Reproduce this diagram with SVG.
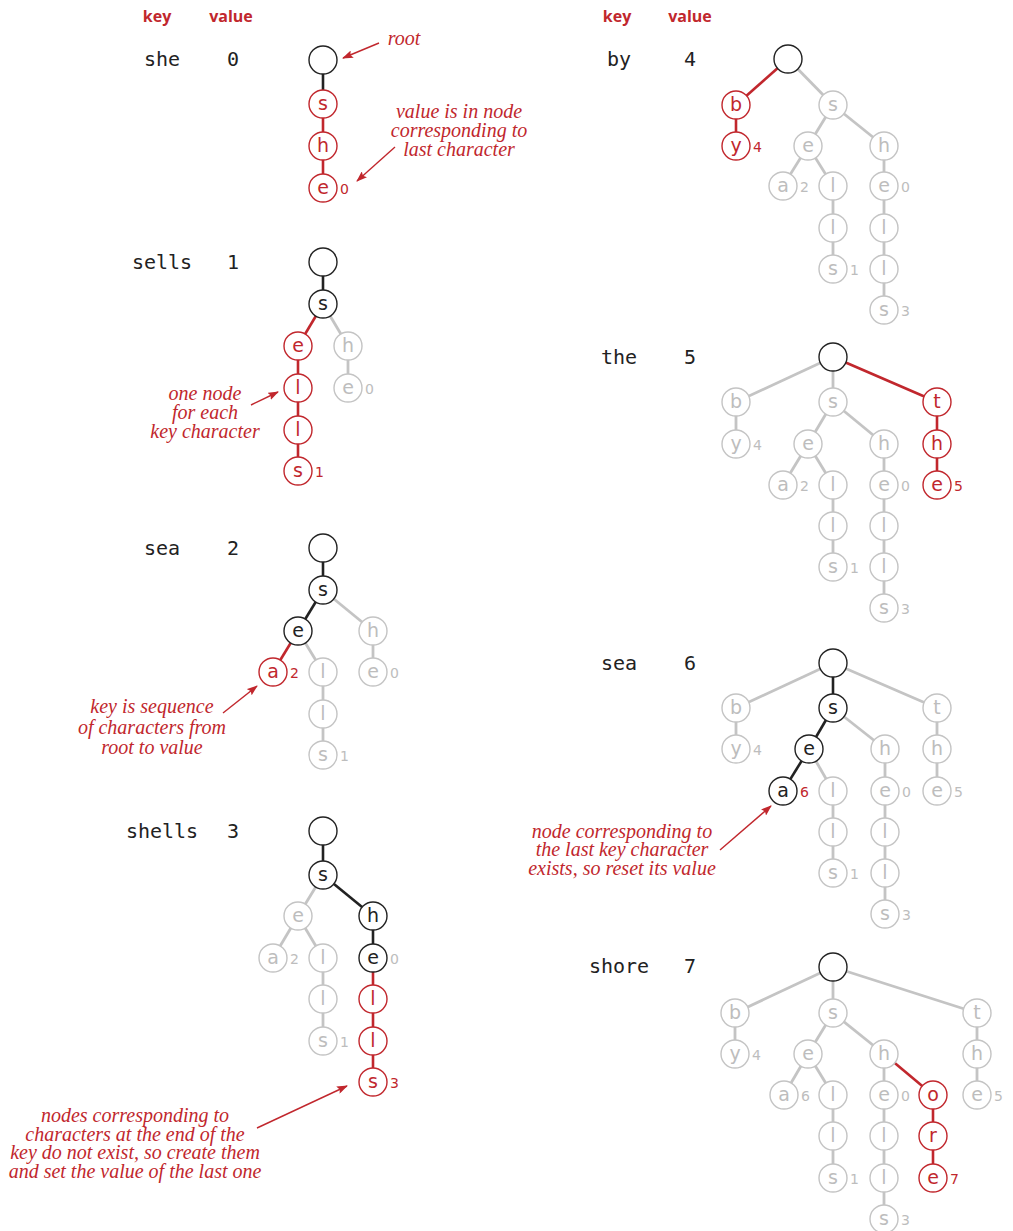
<svg xmlns="http://www.w3.org/2000/svg" width="1013" height="1231" viewBox="0 0 1013 1231">
<defs>
<style>
.hd{font-family:"Open Sans","DejaVu Sans",sans-serif;font-weight:bold;font-size:16px;fill:#c1272d;text-anchor:middle}
.key{font-family:"DejaVu Sans Mono","Liberation Mono",monospace;font-size:20px;fill:#222;text-anchor:middle}
.ann{font-family:"Liberation Serif",serif;font-style:italic;font-size:20px;fill:#c1272d;text-anchor:middle}
circle{fill:#fff;stroke-width:1.4}
.k circle{stroke:#222}
.r circle{stroke:#c1272d}
.g circle{stroke:#c4c4c4}
text.c{font-family:"DejaVu Sans",sans-serif;font-size:19px;text-anchor:middle}
text.v{font-family:"DejaVu Sans",sans-serif;font-size:14px;text-anchor:start}
.k text.c{fill:#222}
.r text.c{fill:#c1272d}
.g text.c{fill:#bdbdbd}
.vr{fill:#c1272d}
.vg{fill:#bdbdbd}
.ek{stroke:#222;stroke-width:2.6}
.er{stroke:#c1272d;stroke-width:2.6}
.eg{stroke:#c4c4c4;stroke-width:2.8}
.arr{stroke:#c1272d;stroke-width:1.4;fill:none}
</style>
<marker id="ah" markerUnits="userSpaceOnUse" markerWidth="11" markerHeight="8" refX="10" refY="4" orient="auto">
<path d="M0,0 L11,4 L0,8 L2,4 z" fill="#c1272d"/>
</marker>
</defs>

<g id="headers">
<text class="hd" x="157" y="22">key</text>
<text class="hd" x="231" y="22">value</text>
<text class="hd" x="617" y="22">key</text>
<text class="hd" x="690" y="22">value</text>
</g>

<g id="keys">
<text class="key" x="162" y="66">she</text><text class="key" x="233" y="66">0</text>
<text class="key" x="162" y="269">sells</text><text class="key" x="233" y="269">1</text>
<text class="key" x="162" y="555">sea</text><text class="key" x="233" y="555">2</text>
<text class="key" x="162" y="838">shells</text><text class="key" x="233" y="838">3</text>
<text class="key" x="619" y="66">by</text><text class="key" x="690" y="66">4</text>
<text class="key" x="619" y="364">the</text><text class="key" x="690" y="364">5</text>
<text class="key" x="619" y="670">sea</text><text class="key" x="690" y="670">6</text>
<text class="key" x="619" y="973">shore</text><text class="key" x="690" y="973">7</text>
</g>

<g id="connectors">
<!-- trie 1 -->
<line class="ek" x1="323" y1="60" x2="323" y2="104"/>
<line class="er" x1="323" y1="104" x2="323" y2="146"/>
<line class="er" x1="323" y1="146" x2="323" y2="188"/>
<!-- trie 2 -->
<line class="ek" x1="323" y1="262" x2="323" y2="304"/>
<line class="er" x1="323" y1="304" x2="298" y2="346"/>
<line class="eg" x1="323" y1="304" x2="348" y2="346"/>
<line class="eg" x1="348" y1="346" x2="348" y2="388"/>
<line class="er" x1="298" y1="346" x2="298" y2="471"/>
<!-- trie 3 -->
<line class="ek" x1="323" y1="548" x2="323" y2="590"/>
<line class="ek" x1="323" y1="590" x2="298" y2="631"/>
<line class="eg" x1="323" y1="590" x2="373" y2="631"/>
<line class="er" x1="298" y1="631" x2="273" y2="672"/>
<line class="eg" x1="298" y1="631" x2="323" y2="672"/>
<line class="eg" x1="373" y1="631" x2="373" y2="672"/>
<line class="eg" x1="323" y1="672" x2="323" y2="755"/>
<!-- trie 4 -->
<line class="ek" x1="323" y1="831" x2="323" y2="875"/>
<line class="eg" x1="323" y1="875" x2="298" y2="916"/>
<line class="ek" x1="323" y1="875" x2="373" y2="916"/>
<line class="eg" x1="298" y1="916" x2="273" y2="958"/>
<line class="eg" x1="298" y1="916" x2="323" y2="958"/>
<line class="eg" x1="323" y1="958" x2="323" y2="1041"/>
<line class="ek" x1="373" y1="916" x2="373" y2="958"/>
<line class="er" x1="373" y1="958" x2="373" y2="1082"/>
<!-- trie 5 -->
<line class="er" x1="788" y1="59" x2="736" y2="105"/>
<line class="eg" x1="788" y1="59" x2="833" y2="105"/>
<line class="er" x1="736" y1="105" x2="736" y2="146"/>
<line class="eg" x1="833" y1="105" x2="808" y2="146"/>
<line class="eg" x1="833" y1="105" x2="884" y2="146"/>
<line class="eg" x1="808" y1="146" x2="783" y2="186"/>
<line class="eg" x1="808" y1="146" x2="833" y2="186"/>
<line class="eg" x1="833" y1="186" x2="833" y2="269"/>
<line class="eg" x1="884" y1="146" x2="884" y2="310"/>
<!-- trie 6 -->
<line class="eg" x1="833" y1="357" x2="736" y2="402"/>
<line class="eg" x1="833" y1="357" x2="833" y2="402"/>
<line class="er" x1="833" y1="357" x2="937" y2="402"/>
<line class="eg" x1="736" y1="402" x2="736" y2="444"/>
<line class="eg" x1="833" y1="402" x2="808" y2="444"/>
<line class="eg" x1="833" y1="402" x2="884" y2="444"/>
<line class="er" x1="937" y1="402" x2="937" y2="485"/>
<line class="eg" x1="808" y1="444" x2="783" y2="485"/>
<line class="eg" x1="808" y1="444" x2="833" y2="485"/>
<line class="eg" x1="833" y1="485" x2="833" y2="567"/>
<line class="eg" x1="884" y1="444" x2="884" y2="608"/>
<!-- trie 7 -->
<line class="eg" x1="833" y1="663" x2="736" y2="708"/>
<line class="ek" x1="833" y1="663" x2="833" y2="708"/>
<line class="eg" x1="833" y1="663" x2="937" y2="708"/>
<line class="eg" x1="736" y1="708" x2="736" y2="749"/>
<line class="ek" x1="833" y1="708" x2="809" y2="749"/>
<line class="eg" x1="833" y1="708" x2="885" y2="749"/>
<line class="eg" x1="937" y1="708" x2="937" y2="791"/>
<line class="ek" x1="809" y1="749" x2="783" y2="791"/>
<line class="eg" x1="809" y1="749" x2="833" y2="791"/>
<line class="eg" x1="833" y1="791" x2="833" y2="873"/>
<line class="eg" x1="885" y1="749" x2="885" y2="914"/>
<!-- trie 8 -->
<line class="eg" x1="833" y1="967" x2="735" y2="1013"/>
<line class="eg" x1="833" y1="967" x2="833" y2="1013"/>
<line class="eg" x1="833" y1="967" x2="977" y2="1013"/>
<line class="eg" x1="735" y1="1013" x2="735" y2="1054"/>
<line class="eg" x1="833" y1="1013" x2="808" y2="1054"/>
<line class="eg" x1="833" y1="1013" x2="884" y2="1054"/>
<line class="eg" x1="977" y1="1013" x2="977" y2="1095"/>
<line class="eg" x1="808" y1="1054" x2="784" y2="1095"/>
<line class="eg" x1="808" y1="1054" x2="833" y2="1095"/>
<line class="eg" x1="833" y1="1095" x2="833" y2="1178"/>
<line class="eg" x1="884" y1="1054" x2="884" y2="1219"/>
<line class="er" x1="884" y1="1054" x2="933" y2="1095"/>
<line class="er" x1="933" y1="1095" x2="933" y2="1178"/>
<!-- annotation arrows -->
<line class="arr" x1="379" y1="43" x2="343" y2="58" marker-end="url(#ah)"/>
<line class="arr" x1="395" y1="147" x2="357" y2="181" marker-end="url(#ah)"/>
<line class="arr" x1="251" y1="405" x2="278" y2="392" marker-end="url(#ah)"/>
<line class="arr" x1="223" y1="713" x2="257" y2="686" marker-end="url(#ah)"/>
<line class="arr" x1="257" y1="1128" x2="347" y2="1086" marker-end="url(#ah)"/>
<line class="arr" x1="720" y1="850" x2="771" y2="806" marker-end="url(#ah)"/>
</g>

<g id="trie1">
<g id="t1-root" class="k"><circle cx="323" cy="60" r="14"/></g>
<g id="t1-s" class="r"><circle cx="323" cy="104" r="14"/><text class="c" x="323" y="110">s</text></g>
<g id="t1-h" class="r"><circle cx="323" cy="146" r="14"/><text class="c" x="323" y="152">h</text></g>
<g id="t1-e" class="r"><circle cx="323" cy="188" r="14"/><text class="c" x="323" y="194">e</text><text class="v vr" x="340" y="194">0</text></g>
</g>

<g id="trie2">
<g id="t2-root" class="k"><circle cx="323" cy="262" r="14"/></g>
<g id="t2-s" class="k"><circle cx="323" cy="304" r="14"/><text class="c" x="323" y="310">s</text></g>
<g id="t2-e" class="r"><circle cx="298" cy="346" r="14"/><text class="c" x="298" y="352">e</text></g>
<g id="t2-h" class="g"><circle cx="348" cy="346" r="14"/><text class="c" x="348" y="352">h</text></g>
<g id="t2-l1" class="r"><circle cx="298" cy="388" r="14"/><text class="c" x="298" y="394">l</text></g>
<g id="t2-he" class="g"><circle cx="348" cy="388" r="14"/><text class="c" x="348" y="394">e</text><text class="v vg" x="365" y="394">0</text></g>
<g id="t2-l2" class="r"><circle cx="298" cy="430" r="14"/><text class="c" x="298" y="436">l</text></g>
<g id="t2-s2" class="r"><circle cx="298" cy="471" r="14"/><text class="c" x="298" y="477">s</text><text class="v vr" x="315" y="477">1</text></g>
</g>

<g id="trie3">
<g id="t3-root" class="k"><circle cx="323" cy="548" r="14"/></g>
<g id="t3-s" class="k"><circle cx="323" cy="590" r="14"/><text class="c" x="323" y="596">s</text></g>
<g id="t3-e" class="k"><circle cx="298" cy="631" r="14"/><text class="c" x="298" y="637">e</text></g>
<g id="t3-h" class="g"><circle cx="373" cy="631" r="14"/><text class="c" x="373" y="637">h</text></g>
<g id="t3-a" class="r"><circle cx="273" cy="672" r="14"/><text class="c" x="273" y="678">a</text><text class="v vr" x="290" y="678">2</text></g>
<g id="t3-l1" class="g"><circle cx="323" cy="672" r="14"/><text class="c" x="323" y="678">l</text></g>
<g id="t3-he" class="g"><circle cx="373" cy="672" r="14"/><text class="c" x="373" y="678">e</text><text class="v vg" x="390" y="678">0</text></g>
<g id="t3-l2" class="g"><circle cx="323" cy="714" r="14"/><text class="c" x="323" y="720">l</text></g>
<g id="t3-s2" class="g"><circle cx="323" cy="755" r="14"/><text class="c" x="323" y="761">s</text><text class="v vg" x="340" y="761">1</text></g>
</g>

<g id="trie4">
<g id="t4-root" class="k"><circle cx="323" cy="831" r="14"/></g>
<g id="t4-s" class="k"><circle cx="323" cy="875" r="14"/><text class="c" x="323" y="881">s</text></g>
<g id="t4-e" class="g"><circle cx="298" cy="916" r="14"/><text class="c" x="298" y="922">e</text></g>
<g id="t4-h" class="k"><circle cx="373" cy="916" r="14"/><text class="c" x="373" y="922">h</text></g>
<g id="t4-a" class="g"><circle cx="273" cy="958" r="14"/><text class="c" x="273" y="964">a</text><text class="v vg" x="290" y="964">2</text></g>
<g id="t4-l1" class="g"><circle cx="323" cy="958" r="14"/><text class="c" x="323" y="964">l</text></g>
<g id="t4-he" class="k"><circle cx="373" cy="958" r="14"/><text class="c" x="373" y="964">e</text><text class="v vg" x="390" y="964">0</text></g>
<g id="t4-l2" class="g"><circle cx="323" cy="999" r="14"/><text class="c" x="323" y="1005">l</text></g>
<g id="t4-hl1" class="r"><circle cx="373" cy="999" r="14"/><text class="c" x="373" y="1005">l</text></g>
<g id="t4-s2" class="g"><circle cx="323" cy="1041" r="14"/><text class="c" x="323" y="1047">s</text><text class="v vg" x="340" y="1047">1</text></g>
<g id="t4-hl2" class="r"><circle cx="373" cy="1041" r="14"/><text class="c" x="373" y="1047">l</text></g>
<g id="t4-hs" class="r"><circle cx="373" cy="1082" r="14"/><text class="c" x="373" y="1088">s</text><text class="v vr" x="390" y="1088">3</text></g>
</g>

<g id="trie5">
<g id="t5-root" class="k"><circle cx="788" cy="59" r="14"/></g>
<g id="t5-b" class="r"><circle cx="736" cy="105" r="14"/><text class="c" x="736" y="111">b</text></g>
<g id="t5-s" class="g"><circle cx="833" cy="105" r="14"/><text class="c" x="833" y="111">s</text></g>
<g id="t5-y" class="r"><circle cx="736" cy="146" r="14"/><text class="c" x="736" y="152">y</text><text class="v vr" x="753" y="152">4</text></g>
<g id="t5-e" class="g"><circle cx="808" cy="146" r="14"/><text class="c" x="808" y="152">e</text></g>
<g id="t5-h" class="g"><circle cx="884" cy="146" r="14"/><text class="c" x="884" y="152">h</text></g>
<g id="t5-a" class="g"><circle cx="783" cy="186" r="14"/><text class="c" x="783" y="192">a</text><text class="v vg" x="800" y="192">2</text></g>
<g id="t5-l1" class="g"><circle cx="833" cy="186" r="14"/><text class="c" x="833" y="192">l</text></g>
<g id="t5-he" class="g"><circle cx="884" cy="186" r="14"/><text class="c" x="884" y="192">e</text><text class="v vg" x="901" y="192">0</text></g>
<g id="t5-l2" class="g"><circle cx="833" cy="228" r="14"/><text class="c" x="833" y="234">l</text></g>
<g id="t5-hl1" class="g"><circle cx="884" cy="228" r="14"/><text class="c" x="884" y="234">l</text></g>
<g id="t5-s2" class="g"><circle cx="833" cy="269" r="14"/><text class="c" x="833" y="275">s</text><text class="v vg" x="850" y="275">1</text></g>
<g id="t5-hl2" class="g"><circle cx="884" cy="269" r="14"/><text class="c" x="884" y="275">l</text></g>
<g id="t5-hs" class="g"><circle cx="884" cy="310" r="14"/><text class="c" x="884" y="316">s</text><text class="v vg" x="901" y="316">3</text></g>
</g>

<g id="trie6">
<g id="t6-root" class="k"><circle cx="833" cy="357" r="14"/></g>
<g id="t6-b" class="g"><circle cx="736" cy="402" r="14"/><text class="c" x="736" y="408">b</text></g>
<g id="t6-s" class="g"><circle cx="833" cy="402" r="14"/><text class="c" x="833" y="408">s</text></g>
<g id="t6-t" class="r"><circle cx="937" cy="402" r="14"/><text class="c" x="937" y="408">t</text></g>
<g id="t6-y" class="g"><circle cx="736" cy="444" r="14"/><text class="c" x="736" y="450">y</text><text class="v vg" x="753" y="450">4</text></g>
<g id="t6-e" class="g"><circle cx="808" cy="444" r="14"/><text class="c" x="808" y="450">e</text></g>
<g id="t6-h" class="g"><circle cx="884" cy="444" r="14"/><text class="c" x="884" y="450">h</text></g>
<g id="t6-th" class="r"><circle cx="937" cy="444" r="14"/><text class="c" x="937" y="450">h</text></g>
<g id="t6-a" class="g"><circle cx="783" cy="485" r="14"/><text class="c" x="783" y="491">a</text><text class="v vg" x="800" y="491">2</text></g>
<g id="t6-l1" class="g"><circle cx="833" cy="485" r="14"/><text class="c" x="833" y="491">l</text></g>
<g id="t6-he" class="g"><circle cx="884" cy="485" r="14"/><text class="c" x="884" y="491">e</text><text class="v vg" x="901" y="491">0</text></g>
<g id="t6-te" class="r"><circle cx="937" cy="485" r="14"/><text class="c" x="937" y="491">e</text><text class="v vr" x="954" y="491">5</text></g>
<g id="t6-l2" class="g"><circle cx="833" cy="526" r="14"/><text class="c" x="833" y="532">l</text></g>
<g id="t6-hl1" class="g"><circle cx="884" cy="526" r="14"/><text class="c" x="884" y="532">l</text></g>
<g id="t6-s2" class="g"><circle cx="833" cy="567" r="14"/><text class="c" x="833" y="573">s</text><text class="v vg" x="850" y="573">1</text></g>
<g id="t6-hl2" class="g"><circle cx="884" cy="567" r="14"/><text class="c" x="884" y="573">l</text></g>
<g id="t6-hs" class="g"><circle cx="884" cy="608" r="14"/><text class="c" x="884" y="614">s</text><text class="v vg" x="901" y="614">3</text></g>
</g>

<g id="trie7">
<g id="t7-root" class="k"><circle cx="833" cy="663" r="14"/></g>
<g id="t7-b" class="g"><circle cx="736" cy="708" r="14"/><text class="c" x="736" y="714">b</text></g>
<g id="t7-s" class="k"><circle cx="833" cy="708" r="14"/><text class="c" x="833" y="714">s</text></g>
<g id="t7-t" class="g"><circle cx="937" cy="708" r="14"/><text class="c" x="937" y="714">t</text></g>
<g id="t7-y" class="g"><circle cx="736" cy="749" r="14"/><text class="c" x="736" y="755">y</text><text class="v vg" x="753" y="755">4</text></g>
<g id="t7-e" class="k"><circle cx="809" cy="749" r="14"/><text class="c" x="809" y="755">e</text></g>
<g id="t7-h" class="g"><circle cx="885" cy="749" r="14"/><text class="c" x="885" y="755">h</text></g>
<g id="t7-th" class="g"><circle cx="937" cy="749" r="14"/><text class="c" x="937" y="755">h</text></g>
<g id="t7-a" class="k"><circle cx="783" cy="791" r="14"/><text class="c" x="783" y="797">a</text><text class="v vr" x="800" y="797">6</text></g>
<g id="t7-l1" class="g"><circle cx="833" cy="791" r="14"/><text class="c" x="833" y="797">l</text></g>
<g id="t7-he" class="g"><circle cx="885" cy="791" r="14"/><text class="c" x="885" y="797">e</text><text class="v vg" x="902" y="797">0</text></g>
<g id="t7-te" class="g"><circle cx="937" cy="791" r="14"/><text class="c" x="937" y="797">e</text><text class="v vg" x="954" y="797">5</text></g>
<g id="t7-l2" class="g"><circle cx="833" cy="832" r="14"/><text class="c" x="833" y="838">l</text></g>
<g id="t7-hl1" class="g"><circle cx="885" cy="832" r="14"/><text class="c" x="885" y="838">l</text></g>
<g id="t7-s2" class="g"><circle cx="833" cy="873" r="14"/><text class="c" x="833" y="879">s</text><text class="v vg" x="850" y="879">1</text></g>
<g id="t7-hl2" class="g"><circle cx="885" cy="873" r="14"/><text class="c" x="885" y="879">l</text></g>
<g id="t7-hs" class="g"><circle cx="885" cy="914" r="14"/><text class="c" x="885" y="920">s</text><text class="v vg" x="902" y="920">3</text></g>
</g>

<g id="trie8">
<g id="t8-root" class="k"><circle cx="833" cy="967" r="14"/></g>
<g id="t8-b" class="g"><circle cx="735" cy="1013" r="14"/><text class="c" x="735" y="1019">b</text></g>
<g id="t8-s" class="g"><circle cx="833" cy="1013" r="14"/><text class="c" x="833" y="1019">s</text></g>
<g id="t8-t" class="g"><circle cx="977" cy="1013" r="14"/><text class="c" x="977" y="1019">t</text></g>
<g id="t8-y" class="g"><circle cx="735" cy="1054" r="14"/><text class="c" x="735" y="1060">y</text><text class="v vg" x="752" y="1060">4</text></g>
<g id="t8-e" class="g"><circle cx="808" cy="1054" r="14"/><text class="c" x="808" y="1060">e</text></g>
<g id="t8-h" class="g"><circle cx="884" cy="1054" r="14"/><text class="c" x="884" y="1060">h</text></g>
<g id="t8-th" class="g"><circle cx="977" cy="1054" r="14"/><text class="c" x="977" y="1060">h</text></g>
<g id="t8-a" class="g"><circle cx="784" cy="1095" r="14"/><text class="c" x="784" y="1101">a</text><text class="v vg" x="801" y="1101">6</text></g>
<g id="t8-l1" class="g"><circle cx="833" cy="1095" r="14"/><text class="c" x="833" y="1101">l</text></g>
<g id="t8-he" class="g"><circle cx="884" cy="1095" r="14"/><text class="c" x="884" y="1101">e</text><text class="v vg" x="901" y="1101">0</text></g>
<g id="t8-o" class="r"><circle cx="933" cy="1095" r="14"/><text class="c" x="933" y="1101">o</text></g>
<g id="t8-te" class="g"><circle cx="977" cy="1095" r="14"/><text class="c" x="977" y="1101">e</text><text class="v vg" x="994" y="1101">5</text></g>
<g id="t8-l2" class="g"><circle cx="833" cy="1136" r="14"/><text class="c" x="833" y="1142">l</text></g>
<g id="t8-hl1" class="g"><circle cx="884" cy="1136" r="14"/><text class="c" x="884" y="1142">l</text></g>
<g id="t8-r" class="r"><circle cx="933" cy="1136" r="14"/><text class="c" x="933" y="1142">r</text></g>
<g id="t8-s2" class="g"><circle cx="833" cy="1178" r="14"/><text class="c" x="833" y="1184">s</text><text class="v vg" x="850" y="1184">1</text></g>
<g id="t8-hl2" class="g"><circle cx="884" cy="1178" r="14"/><text class="c" x="884" y="1184">l</text></g>
<g id="t8-oe" class="r"><circle cx="933" cy="1178" r="14"/><text class="c" x="933" y="1184">e</text><text class="v vr" x="950" y="1184">7</text></g>
<g id="t8-hs" class="g"><circle cx="884" cy="1219" r="14"/><text class="c" x="884" y="1225">s</text><text class="v vg" x="901" y="1225">3</text></g>
</g>

<g id="annotations">
<text class="ann" x="404" y="45">root</text>
<text class="ann" x="459" y="118">value is in node</text>
<text class="ann" x="459" y="137">corresponding to</text>
<text class="ann" x="459" y="156">last character</text>
<text class="ann" x="205" y="400">one node</text>
<text class="ann" x="205" y="419">for each</text>
<text class="ann" x="205" y="438">key character</text>
<text class="ann" x="152" y="713">key is sequence</text>
<text class="ann" x="152" y="734">of characters from</text>
<text class="ann" x="152" y="754">root to value</text>
<text class="ann" x="135" y="1122">nodes corresponding to</text>
<text class="ann" x="135" y="1141">characters at the end of the</text>
<text class="ann" x="135" y="1159">key do not exist, so create them</text>
<text class="ann" x="135" y="1178">and set the value of the last one</text>
<text class="ann" x="622" y="838">node corresponding to</text>
<text class="ann" x="622" y="856">the last key character</text>
<text class="ann" x="622" y="875">exists, so reset its value</text>
</g>
</svg>
